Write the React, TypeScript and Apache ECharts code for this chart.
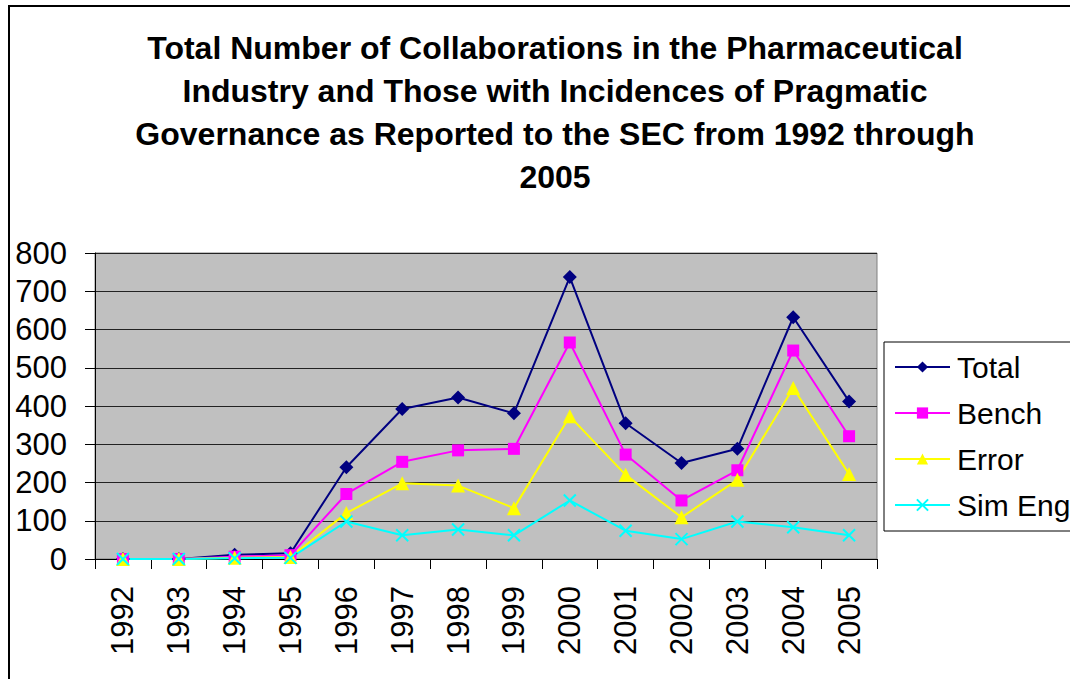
import React, { useEffect, useRef } from "react";
import * as echarts from "echarts";

const years = ["1992", "1993", "1994", "1995", "1996", "1997", "1998", "1999", "2000", "2001", "2002", "2003", "2004", "2005"];
const total = [0, 0, 11, 15, 240, 392, 422, 381, 737, 355, 251, 288, 632, 412];
const bench = [0, 0, 6, 10, 170, 254, 284, 288, 566, 273, 153, 232, 545, 321];
const error = [0, 0, 3, 5, 120, 198, 192, 133, 373, 220, 109, 207, 447, 222];
const simEng = [0, 0, 2, 3, 98, 62, 77, 62, 153, 74, 52, 98, 83, 62];
const yTicks = [0, 100, 200, 300, 400, 500, 600, 700, 800];

const FONT = "'Liberation Sans', Arial, Helvetica, sans-serif";
const CROSS = "path://M0,0L10,10M10,0L0,10";

export default function App() {
  const ref = useRef<HTMLDivElement>(null);
  useEffect(() => {
    if (!ref.current) return;
    const chart = echarts.init(ref.current, null, { renderer: "svg" });
    const mk = (name: string, data: number[], color: string, symbol: string, size: number, extra: any = {}) => ({
      name,
      type: "line",
      data,
      symbol,
      symbolSize: size,
      lineStyle: { color, width: 2 },
      itemStyle: { color, ...extra },
      emphasis: { disabled: true },
    });
    chart.setOption({
      animation: false,
      backgroundColor: "#ffffff",
      textStyle: { fontFamily: FONT },
      title: {
        text: "Total Number of Collaborations in the Pharmaceutical\nIndustry and Those with Incidences of Pragmatic\nGovernance as Reported to the SEC from 1992 through\n2005",
        left: 550,
        textAlign: "center",
        top: 21,
        textStyle: { fontFamily: FONT, fontWeight: "bold", fontSize: 32, lineHeight: 43, color: "#000" },
      },
      graphic: [
        {
          type: "rect",
          shape: { x: 9, y: 6, width: 1200, height: 1000 },
          style: { fill: "none", stroke: "#000", lineWidth: 2 },
          silent: true,
        },
      ],
      legend: {
        orient: "vertical",
        left: 884,
        top: 342,
        padding: [10, 10, 11, 10],
        itemWidth: 55,
        itemHeight: 14,
        itemGap: 16,
        borderColor: "#000",
        borderWidth: 1,
        backgroundColor: "#fff",
        textStyle: { fontFamily: FONT, fontSize: 30, lineHeight: 30, color: "#000", padding: [0, 0, 0, 2] },
        data: ["Total", "Bench", "Error", "Sim Eng"],
      },
      grid: {
        left: 95,
        right: 193,
        top: 253,
        bottom: 120,
        show: true,
        backgroundColor: "#c0c0c0",
        borderColor: "#808080",
        borderWidth: 1,
      },
      xAxis: {
        type: "category",
        data: years,
        boundaryGap: true,
        axisLine: { lineStyle: { color: "#000", width: 1 } },
        axisTick: { show: true, length: 10, interval: 0, lineStyle: { color: "#000" } },
        axisLabel: { rotate: 90, interval: 0, margin: 27, fontSize: 31, color: "#000", fontFamily: FONT },
        splitLine: { show: false },
      },
      yAxis: {
        type: "value",
        min: yTicks[0],
        max: yTicks[yTicks.length - 1],
        interval: 100,
        axisLine: { show: true, lineStyle: { color: "#000", width: 1 } },
        axisTick: { show: true, length: 10, lineStyle: { color: "#000" } },
        axisLabel: { margin: 28, fontSize: 31, color: "#000", fontFamily: FONT },
        splitLine: { show: true, lineStyle: { color: "#222", width: 1 } },
      },
      series: [
        mk("Total", total, "#000080", "diamond", 14),
        mk("Bench", bench, "#ff00ff", "rect", 12),
        mk("Error", error, "#ffff00", "triangle", 14),
        mk("Sim Eng", simEng, "#00ffff", CROSS, 12, { borderColor: "#00ffff", borderWidth: 2 }),
      ],
    });
    return () => chart.dispose();
  }, []);
  return (
    <div
      ref={ref}
      style={{ position: "fixed", left: 0, top: 0, width: 1070, height: 679 }}
    />
  );
}
